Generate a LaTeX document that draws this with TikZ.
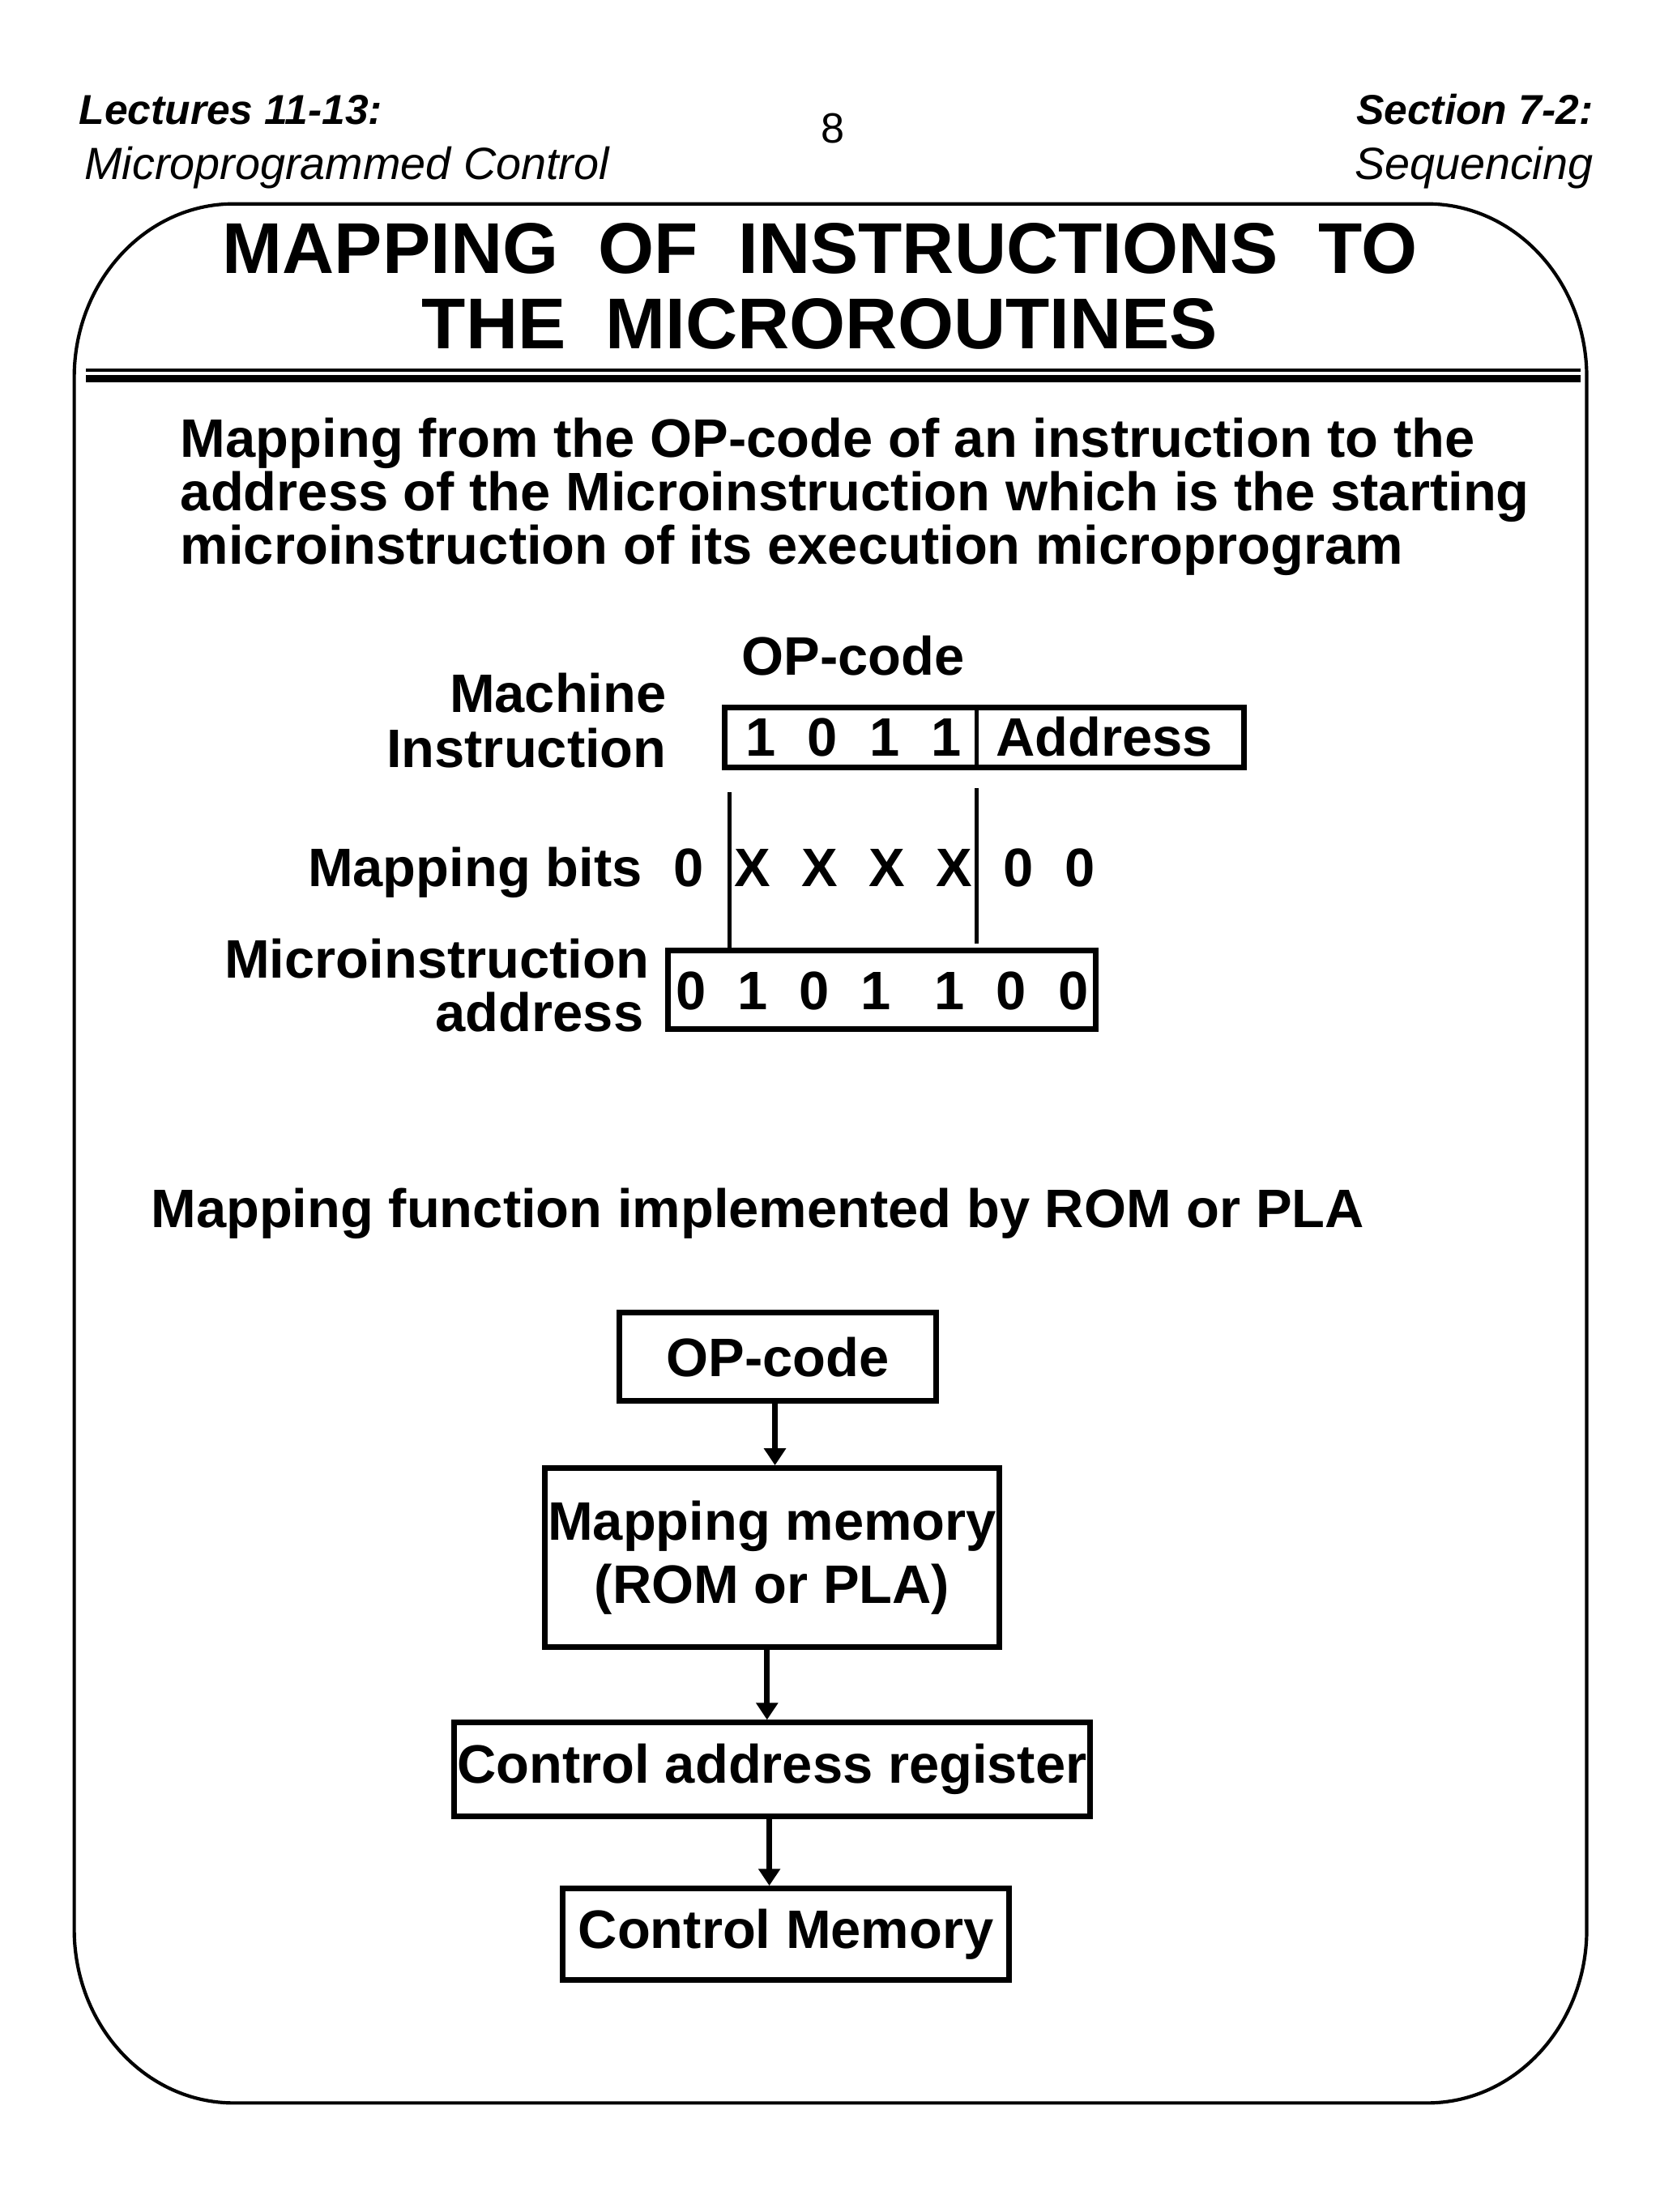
\documentclass[tikz,border=0pt]{standalone}
\usepackage{fontspec}
\setmainfont{Liberation Sans}
\usetikzlibrary{arrows.meta}
\begin{document}
\begin{tikzpicture}[x=0.5pt,y=-0.5pt,
  txt/.style={inner sep=0pt, outer sep=0pt},
  hdrb/.style={txt, font=\fontsize{14.8}{16}\selectfont\bfseries\itshape},
  hdri/.style={txt, font=\fontsize{16}{18}\selectfont\itshape},
  ttl/.style={txt, font=\fontsize{25.5}{27}\selectfont\bfseries},
  body/.style={txt, font=\fontsize{19.2}{19}\selectfont\bfseries},
  fbox/.style={draw, line width=2pt, inner sep=0pt, font=\fontsize{19.2}{19}\selectfont\bfseries, align=center},
  regbox/.style={draw, line width=2pt, inner sep=0pt},
  arr/.style={line width=2pt, -{Triangle[width=7.5pt,length=6pt]}},
  thinln/.style={line width=1.5pt},
  frameln/.style={line width=1.2pt}
]
\useasboundingbox (0,0) rectangle (1176,1568);

% headers
\node[hdrb, anchor=base west] (lec) at (56,88) {Lectures 11-13:};
\node[hdri, anchor=base west] (mpc) at (60,127) {Microprogrammed Control};
\node[txt, font=\fontsize{15}{16}\selectfont, anchor=base] (pg) at (590.5,101.5) {8};
\node[hdrb, anchor=base east] (sec) at (1129,88) {Section 7-2:};
\node[hdri, anchor=base east] (seq) at (1129,127) {Sequencing};

% frame
\draw[frameln] (165.6,144.5) -- (1011.5,144.5)
  .. controls (1073.9,144.5) and (1124.5,199.6) .. (1124.5,267.5)
  -- (1124.5,1367.7)
  .. controls (1124.5,1435.6) and (1073.9,1490.7) .. (1011.5,1490.7)
  -- (165.6,1490.7)
  .. controls (103.2,1490.7) and (52.6,1435.6) .. (52.6,1367.7)
  -- (52.6,267.5)
  .. controls (52.6,199.6) and (103.2,144.5) .. (165.6,144.5) -- cycle;

% title
\node[ttl, anchor=base] (t1) at (581,194) {\spaceskip=14.2pt\relax MAPPING OF INSTRUCTIONS TO};
\node[ttl, anchor=base] (t2) at (581,247) {\spaceskip=14.2pt\relax THE MICROROUTINES};

% double rule
\coordinate (r1a) at (60.9,262.2);
\coordinate (r1b) at (1120,262.2);
\coordinate (r2a) at (60.9,268.5);
\coordinate (r2b) at (1120,268.5);
\draw[line width=1.15pt] (r1a) -- (r1b);
\draw[line width=2.6pt] (r2a) -- (r2b);

% paragraph
\node[body, anchor=base west] (p1) at (128,324) {Mapping from the OP-code of an instruction to the};
\node[body, anchor=base west] (p2) at (128,362) {address of the Microinstruction which is the starting};
\node[body, anchor=base west] (p3) at (128,400) {microinstruction of its execution microprogram};

% machine instruction
\node[body, anchor=base] (opl) at (604.5,478.5) {OP-code};
\node[body, anchor=base east] (mach) at (472.3,505) {Machine};
\node[body, anchor=base east] (instr) at (472.3,544) {Instruction};
\node[regbox, minimum width=183.95pt, minimum height=21.3pt] (ib) at (697.75,522.7) {};
\coordinate (div) at (692.3,522.7);
\draw[thinln] (div |- ib.north) -- (div |- ib.south);
\node[body, anchor=base west] (opbits) at (528.4,536) {\spaceskip=11.3pt\relax 1 0 1 1};
\node[body, anchor=base] (addr) at (782.5,536) {Address};

% mapping bits
\node[body, anchor=base east] (mbl) at (455,628.5) {Mapping bits};
\node[body, anchor=base west] (mbits) at (477.4,628.5) {\spaceskip=11pt\relax 0 X X X X 0 0};

% microinstruction address
\node[body, anchor=base east] (mil) at (460,693) {Microinstruction};
\node[body, anchor=base east] (mal) at (456,731) {address};
\node[regbox, minimum width=151.75pt, minimum height=27.8pt] (mb) at (625.05,701.6) {};
\node[body, anchor=base west] (mbd) at (479,715.5) {\spaceskip=11.2pt\relax 0 1 0 1\hspace{4.2pt} 1 0 0};

% vertical guide lines
\coordinate (va) at (516.8,561.6);
\coordinate (vb) at (692.3,558.6);
\coordinate (vbe) at (692.3,668.9);
\draw[thinln] (va) -- (va |- mb.north);
\draw[thinln] (vb) -- (vbe);

% mapping function
\node[body, anchor=base west] (mf) at (107,870) {Mapping function implemented by ROM or PLA};

% flow
\node[fbox, minimum width=112.25pt, minimum height=31.25pt] (op) at (551.3,961.8) {OP-code};
\node[fbox, minimum width=160.85pt, minimum height=63.4pt, font=\fontsize{19.2}{22.25}\selectfont\bfseries] (mm) at (547.2,1104.1) {Mapping memory\\(ROM or PLA)};
\node[fbox, minimum width=225.15pt, minimum height=33.1pt] (car) at (547.2,1254.2) {Control address register};
\node[fbox, minimum width=158.35pt, minimum height=32.3pt] (cm) at (557,1371) {Control Memory};

\draw[arr] ([xshift=-1.05pt]op.south) -- ([xshift=-1.05pt]op.south |- mm.north);
\draw[arr] ([xshift=-1.8pt]mm.south) -- ([xshift=-1.8pt]mm.south |- car.north);
\draw[arr] ([xshift=-1pt]car.south) -- ([xshift=-1pt]car.south |- cm.north);
\end{tikzpicture}
\end{document}
